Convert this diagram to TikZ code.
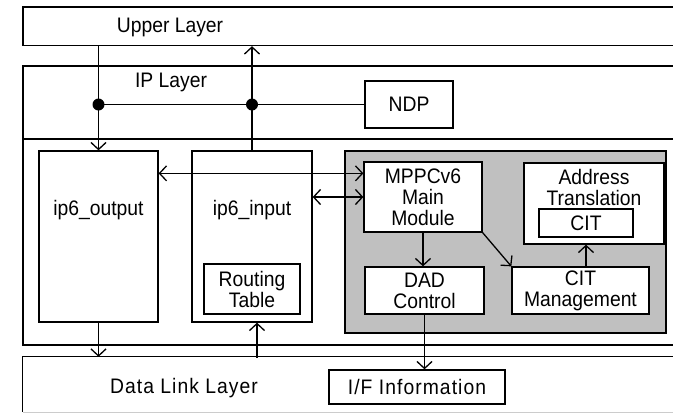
\documentclass[tikz,border=0pt]{standalone}
\usepackage{fontspec}
\setmainfont[FakeStretch=0.92]{Liberation Sans}
\usetikzlibrary{arrows.meta,calc}
\definecolor{panelgray}{HTML}{C0C0C0}
\tikzset{
  lbl/.style={font=\fontsize{21}{21}\selectfont, inner sep=0pt, align=center},
  spaced/.style={font=\fontsize{21}{21}\selectfont\addfontfeature{LetterSpace=5}},
  box/.style={draw, line width=1.3pt, fill=white, inner sep=0pt, lbl},
  layer/.style={draw, line width=1.3pt, inner sep=0pt},
  arr/.style={line width=1.3pt, -{Straight Barb[length=7pt,width=15pt,line width=1.3pt]}},
  arrboth/.style={line width=1.3pt, {Straight Barb[length=7pt,width=15pt,line width=1.3pt]}-{Straight Barb[length=7pt,width=15pt,line width=1.3pt]}},
  joint/.style={circle, fill=black, inner sep=0pt, minimum size=12pt},
}
\begin{document}
\begin{tikzpicture}[x=1pt,y=-1pt]
\path[use as bounding box] (0,0) rectangle (673,413);
\clip (0,0) rectangle (673,413);

% layers (they run past the right edge)
\node[layer, minimum width=677pt, minimum height=38.5pt] (upper) at (361.5,26.25) {};
\node[layer, minimum width=677pt, minimum height=279pt] (iplayer) at (361.5,205.5) {};
\draw[line width=1.3pt] (23,139) -- (700,139);
\node[inner sep=0pt, minimum width=677pt, minimum height=55pt] (dll) at (361.5,384.5) {};
\draw[line width=1.3pt] (dll.north east) -- (dll.north west) -- (dll.south west);
\draw[line width=1pt, gray!40] (dll.south west) -- (dll.south east);

\node[lbl] (upperlbl) at (170,27) {Upper Layer};
\node[lbl] (iplbl) at (171,82) {IP Layer};
\node[lbl, spaced] (dlllbl) at (184,388) {Data Link Layer};

% IP layer blocks
\node[box, minimum width=88pt, minimum height=47pt] (ndp) at (409,104.5) {NDP};
\node[box, minimum width=119pt, minimum height=171pt] (out) at (98.5,236.5) {};
\node[lbl] (outlbl) at (98.5,210) {ip6\_output};
\node[box, minimum width=120pt, minimum height=171pt] (in) at (252,236.5) {};
\node[lbl] (inlbl) at (252,210) {ip6\_input};
\node[box, minimum width=96pt, minimum height=50pt] (rt) at (252,289) {Routing\\Table};

% MPPCv6 panel
\node[draw, line width=1.3pt, fill=panelgray, minimum width=321pt, minimum height=182pt] (panel) at (505.5,242) {};
\node[box, minimum width=118pt, minimum height=70pt] (mppc) at (423,197) {MPPCv6\\Main\\Module};
\node[box, minimum width=140pt, minimum height=81pt] (at) at (594,203.5) {};
\node[lbl] (atlbl) at (594,187) {Address\\Translation};
\node[box, minimum width=94pt, minimum height=28pt] (cit) at (586,223) {CIT};
\node[box, minimum width=119pt, minimum height=47pt] (dad) at (424.5,290.5) {DAD\\Control};
\node[box, minimum width=137pt, minimum height=47pt] (citm) at (580.5,290.5) {CIT\\Management};

% interface information in the data link layer
\node[box, spaced, minimum width=176pt, minimum height=34pt] (ifinfo) at (417,387) {I/F Information};

% connections
\coordinate (j1) at (out.north |- ndp.west);
\coordinate (j2) at (in.north |- ndp.west);
\draw[line width=1.3pt] (j1) -- (ndp.west);
\draw[arr] (out.north |- upper.south) -- (out.north);
\draw[arr] (in.north) -- (in.north |- upper.south);
\node[joint] (dot1) at (j1) {};
\node[joint] (dot2) at (j2) {};

\coordinate (m1) at ($(mppc.north west)+(0,12)$);
\draw[arrboth] (m1) -- (m1 -| out.east);
\draw[arrboth] (mppc.west) -- (mppc.west -| in.east);

\draw[arr] (out.south) -- (out.south |- dll.north);
\coordinate (d2) at ($(in.south)+(5,35)$);
\draw[arr] (d2) -- (d2 |- in.south);

\draw[arr] (mppc.south) -- (mppc.south |- dad.north);
\draw[arr] (mppc.south east) -- (citm.north west);
\draw[arr] (citm.north -| cit.south) -- (at.south -| cit.south);
\draw[arr] (dad.south) -- (dad.south |- ifinfo.north);
\end{tikzpicture}
\end{document}
